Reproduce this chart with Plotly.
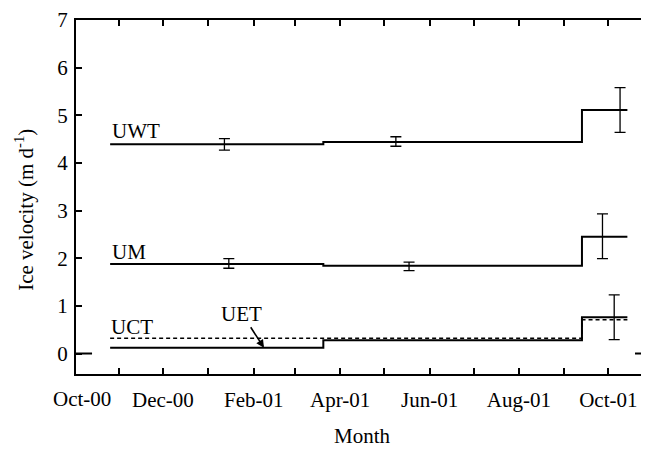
import plotly.graph_objects as go
import pandas as pd

# ---- data ----
seg_dates = ["2000-10-26", "2001-03-20 12:00", "2001-09-13", "2001-10-14"]  # segment boundaries
uwt_levels = [4.39, 4.44, 5.11]
um_levels = [1.88, 1.84, 2.45]
uet_levels = [0.12, 0.28, 0.76]
uct_levels = [0.32, 0.32, 0.71]

uwt_err_dates = ["2001-01-12", "2001-05-09", "2001-10-09"]
uwt_err_vals = [4.39, 4.45, 5.11]
uwt_err_sd = [0.12, 0.10, 0.47]

um_err_dates = ["2001-01-15", "2001-05-18", "2001-09-27"]
um_err_vals = [1.89, 1.83, 2.46]
um_err_sd = [0.10, 0.09, 0.47]

uet_err_dates = ["2001-10-05"]
uet_err_vals = [0.76]
uet_err_sd = [0.47]

tick_dates = pd.date_range("2000-11-01", "2001-10-01", freq="MS")
tick_labels = [" " if d.month % 2 == 1 else d.strftime("%b-%y") for d in tick_dates]
y_ticks = [0, 1, 2, 3, 4, 5, 6, 7]

x_range = ["2000-10-02 17:00", "2001-10-28 18:00"]
y_range = [-0.43, 7.0005]

FONT = "'Times New Roman', Times, 'Liberation Serif', 'DejaVu Serif', 'Noto Serif', serif"
FS = 21


def step_xy(levels):
    return seg_dates, levels + [levels[-1]]


fig = go.Figure()
for lv, dash, w in [(uwt_levels, "solid", 2), (um_levels, "solid", 2),
                    (uet_levels, "solid", 2), (uct_levels, "4px,3px", 1.6)]:
    xs, ys = step_xy(lv)
    fig.add_trace(go.Scatter(x=xs, y=ys, mode="lines", line_shape="hv",
                             line=dict(color="black", width=w, dash=dash),
                             showlegend=False, hoverinfo="skip"))

for xd, yv, sd in [(uwt_err_dates, uwt_err_vals, uwt_err_sd),
                   (um_err_dates, um_err_vals, um_err_sd),
                   (uet_err_dates, uet_err_vals, uet_err_sd)]:
    fig.add_trace(go.Scatter(x=xd, y=yv, mode="markers",
                             marker=dict(size=1, color="rgba(0,0,0,0)"),
                             error_y=dict(type="data", array=sd, color="black",
                                          thickness=1.3, width=5.5),
                             showlegend=False, hoverinfo="skip"))

# dummy trace for right-hand tick axis
fig.add_trace(go.Scatter(x=[x_range[0]], y=[-5], yaxis="y2", mode="markers",
                         marker=dict(size=1, color="rgba(0,0,0,0)"),
                         showlegend=False, hoverinfo="skip"))

# labels
lab_font = dict(family=FONT, size=FS, color="black")
fig.add_annotation(x=seg_dates[0], y=4.68, text="UWT", showarrow=False,
                   xanchor="left", yanchor="middle", font=lab_font)
fig.add_annotation(x=seg_dates[0], y=2.13, text="UM", showarrow=False,
                   xanchor="left", yanchor="middle", font=lab_font)
fig.add_annotation(x="2000-10-25", y=0.55, text="UCT", showarrow=False,
                   xanchor="left", yanchor="middle", font=lab_font)
fig.add_annotation(x="2001-02-08", y=uet_levels[0], text="UET", showarrow=True,
                   ax=-22, ay=-34, arrowhead=2, arrowsize=1, arrowwidth=1.6,
                   arrowcolor="black", font=lab_font)

fig.add_annotation(x="2000-10-07", y=-0.0717, yref="paper", text="Oct-00",
                   showarrow=False, xanchor="center", yanchor="middle", font=lab_font)
fig.add_annotation(x=-0.089, y=0.4637, xref="paper", yref="paper",
                   text="Ice velocity (m d<sup>-1</sup>)", textangle=-90,
                   showarrow=False, xanchor="center", yanchor="middle", font=lab_font)
fig.add_annotation(x=0.5, y=-0.175, xref="paper", yref="paper", text="Month",
                   showarrow=False, xanchor="center", yanchor="middle", font=lab_font)

# long zero ticks
fig.add_shape(type="line", xref="paper", yref="y", x0=0, x1=0.028, y0=0, y1=0,
              line=dict(color="black", width=2))
fig.add_shape(type="line", xref="paper", yref="y", x0=0.9756, x1=1, y0=0, y1=0,
              line=dict(color="black", width=2))

fig.update_layout(
    width=641, height=441,
    margin=dict(l=68, r=0, t=8, b=75),
    paper_bgcolor="white", plot_bgcolor="white",
    font=dict(family=FONT, size=FS, color="black"),
    xaxis=dict(type="date", range=x_range, tickvals=tick_dates, ticktext=tick_labels,
               ticks="inside", ticklen=6, tickwidth=2, tickcolor="black",
               showline=True, linewidth=2, linecolor="black", mirror="ticks",
               showgrid=False, zeroline=False, ticklabelstandoff=6,
               ticklabeloverflow="allow",
               tickfont=dict(family=FONT, size=FS, color="black")),
    yaxis=dict(range=y_range, tickvals=y_ticks, ticks="inside", ticklen=6, tickwidth=2,
               tickcolor="black", showline=True, linewidth=2, linecolor="black",
               showgrid=False, zeroline=False, ticklabelstandoff=2,
               ticklabeloverflow="allow",
               tickfont=dict(family=FONT, size=FS, color="black")),
    yaxis2=dict(range=y_range, tickvals=y_ticks, overlaying="y", side="right",
                ticks="inside", ticklen=6, tickwidth=2, tickcolor="black",
                showline=False, showticklabels=False, showgrid=False, zeroline=False),
    showlegend=False,
)

fig.write_html("out.html")
